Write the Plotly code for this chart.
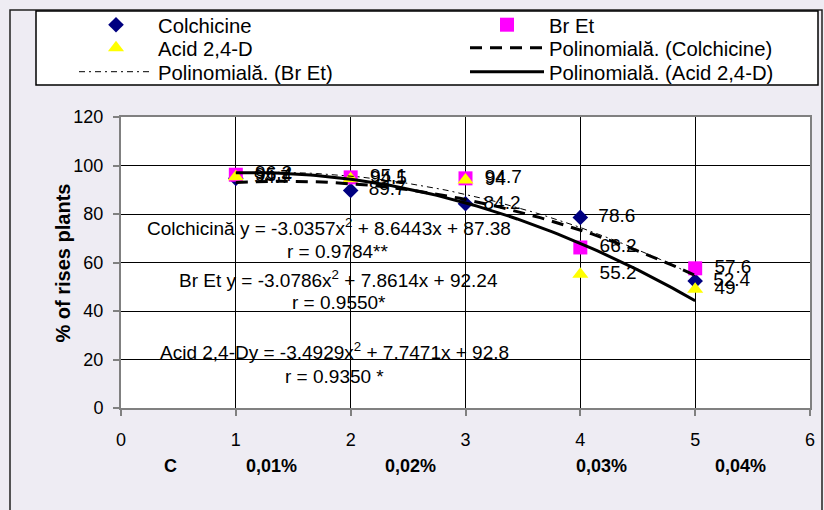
import numpy as np
import plotly.graph_objects as go

# ---------------- data ----------------
x_conc = [1, 2, 3, 4, 5]
colchicine = [94.7, 89.7, 84.2, 78.6, 52.4]
br_et = [96.2, 95.1, 94.7, 66.2, 57.6]
acid_24d = [95.4, 94.5, 94.0, 55.2, 49.0]

series_names = ["Colchicine", "Br Et", "Acid 2,4-D"]
trend_names = ["Polinomială. (Colchicine)", "Polinomială. (Br Et)", "Polinomială. (Acid 2,4-D)"]
equation_texts = [
    "Colchicină y = -3.0357x<sup>2</sup> + 8.6443x + 87.38",
    "r = 0.9784**",
    "Br Et y = -3.0786x<sup>2</sup> + 7.8614x + 92.24",
    "r = 0.9550*",
    "Acid 2,4-Dy = -3.4929x<sup>2</sup> + 7.7471x + 92.8",
    "r = 0.9350 *",
]
conc_labels = ["C", "0,01%", "0,02%", "0,03%", "0,04%"]
x_ticks = [0, 1, 2, 3, 4, 5, 6]
y_ticks = [0, 20, 40, 60, 80, 100, 120]
y_title = "% of rises plants"

# ---------------- layout helpers ----------------
W, H = 824, 510
ML, MR, MT, MB = 121, 14, 117, 102
PW, PH = W - ML - MR, H - MT - MB
FONT = "Liberation Sans, Arial, sans-serif"


def px(xp):
    return (xp - ML) / PW


def py(yp):
    return (H - MB - yp) / PH


all_series = [colchicine, br_et, acid_24d]
marker_styles = [
    dict(symbol="diamond", color="#000080", size=12),
    dict(symbol="square", color="#ff00ff", size=14),
    dict(symbol="triangle-up", color="#ffff00", size=14),
]
line_styles = [
    dict(color="black", width=3, dash="12px,8px"),
    dict(color="black", width=1, dash="6px,4px,2px,4px"),
    dict(color="black", width=3, dash="solid"),
]
marker_legends = ["legend", "legend", "legend2"]
line_legends = ["legend2", "legend3", "legend3"]

fig = go.Figure()

for name, ys, ms, lg in zip(series_names, all_series, marker_styles, marker_legends):
    fig.add_trace(go.Scatter(
        x=x_conc, y=ys, name=name, mode="markers+text",
        marker=dict(symbol=ms["symbol"], color=ms["color"], size=ms["size"],
                    line=dict(width=0)),
        text=["\u2002" + f"{v:g}" for v in ys],
        textposition="middle right",
        textfont=dict(family=FONT, size=19, color="black"),
        legend=lg, cliponaxis=False,
    ))

xs_dense = np.linspace(min(x_conc), max(x_conc), 81)
for name, ys, ls, lg in zip(trend_names, all_series, line_styles, line_legends):
    coef = np.polyfit(x_conc, ys, 2)
    fig.add_trace(go.Scatter(
        x=xs_dense, y=np.polyval(coef, xs_dense), name=name, mode="lines",
        line=ls, legend=lg,
    ))

# equation annotations
eq_pos = [(329, 227), (337, 251), (338, 279), (339, 302), (334, 351), (334, 376)]
annotations = []
for t, (xp, yp) in zip(equation_texts, eq_pos):
    annotations.append(dict(
        text=t, xref="paper", yref="paper", x=px(xp), y=py(yp),
        xanchor="center", yanchor="middle", showarrow=False,
        font=dict(family=FONT, size=19, color="black"),
    ))

# concentration labels under the axis
conc_pos = [170, 271, 410, 601, 740]
for t, xp in zip(conc_labels, conc_pos):
    annotations.append(dict(
        text="<b>" + t + "</b>", xref="paper", yref="paper", x=px(xp), y=py(466),
        xanchor="center", yanchor="middle", showarrow=False,
        font=dict(family=FONT, size=18, color="black"),
    ))

# y-axis title
annotations.append(dict(
    text="<b>" + y_title + "</b>", xref="paper", yref="paper", x=px(62), y=0.5,
    xanchor="center", yanchor="middle", textangle=-90, showarrow=False,
    font=dict(family=FONT, size=20, color="black"),
))

shapes = [
    # chart-area border
    dict(type="rect", xref="paper", yref="paper", x0=px(10), x1=px(822),
         y0=py(520), y1=py(10), line=dict(color="#202020", width=1.5),
         fillcolor="rgba(0,0,0,0)", layer="below"),
    # legend box
    dict(type="rect", xref="paper", yref="paper", x0=px(36), x1=px(818),
         y0=py(85), y1=py(11), line=dict(color="black", width=1.5),
         fillcolor="white", layer="below"),
]

leg_common = dict(
    orientation="h", xanchor="left", yanchor="middle", x=px(74),
    bgcolor="rgba(0,0,0,0)", borderwidth=0, itemwidth=74,
    entrywidth=302, entrywidthmode="pixels", traceorder="normal",
    font=dict(family=FONT, size=20.3, color="black"),
)

fig.update_layout(
    width=W, height=H,
    margin=dict(l=ML, r=MR, t=MT, b=MB, autoexpand=False),
    paper_bgcolor="#eeecf3",
    plot_bgcolor="white",
    font=dict(family=FONT, color="black"),
    showlegend=True,
    legend=dict(leg_common, y=py(25)),
    legend2=dict(leg_common, y=py(48)),
    legend3=dict(leg_common, y=py(72)),
    annotations=annotations,
    shapes=shapes,
    xaxis=dict(
        range=[0, 6], tickvals=x_ticks, ticktext=[str(v) for v in x_ticks],
        showgrid=True, gridcolor="black", gridwidth=1,
        zeroline=False, showline=True, mirror=True, linecolor="#808080", linewidth=2,
        ticks="outside", ticklen=6, tickcolor="#808080", tickwidth=1.5,
        ticklabelstandoff=8,
        tickfont=dict(family=FONT, size=18, color="black"),
    ),
    yaxis=dict(
        range=[0, 120], tickvals=y_ticks, ticktext=[str(v) for v in y_ticks],
        showgrid=True, gridcolor="black", gridwidth=1,
        zeroline=False, showline=True, mirror=True, linecolor="#808080", linewidth=2,
        ticks="outside", ticklen=6, tickcolor="#808080", tickwidth=1.5,
        ticklabelstandoff=6,
        tickfont=dict(family=FONT, size=18, color="black"),
    ),
)

fig.write_html(
    "out.html",
    config={"displayModeBar": False},
    post_script="document.body.style.margin='0';document.body.style.background='#eeecf3';",
)
